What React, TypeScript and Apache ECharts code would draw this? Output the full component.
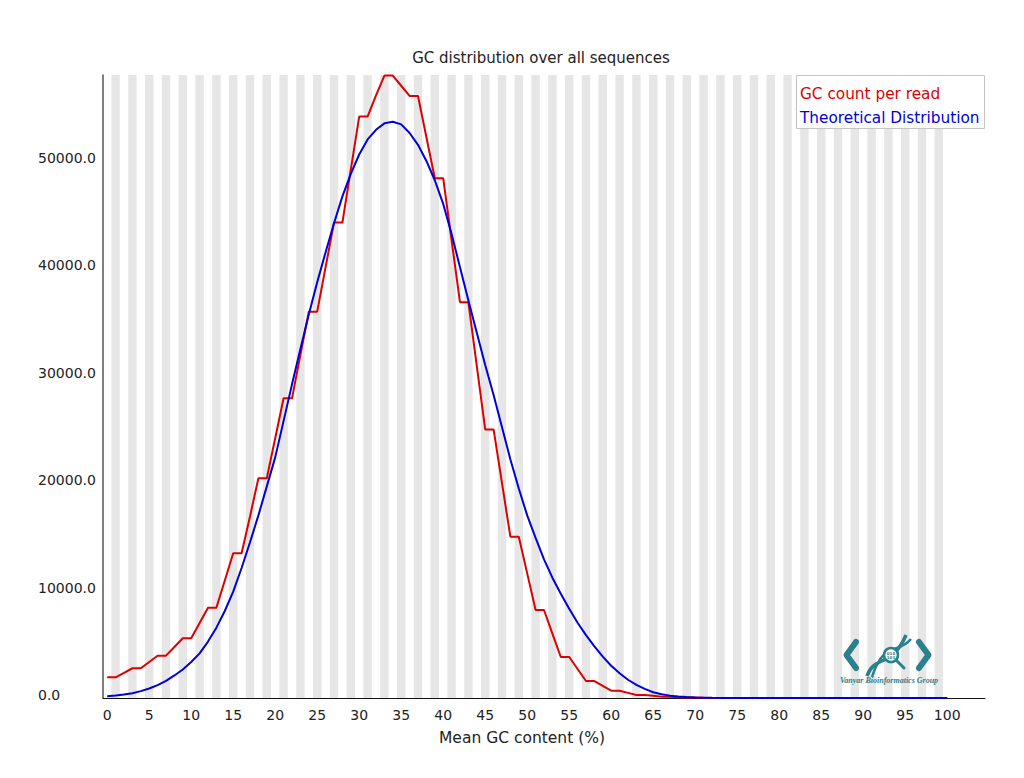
import React, { useEffect, useRef } from "react";
import * as echarts from "echarts";

// Mean GC content (%) positions 0..100
const GC_PERCENT: number[] = Array.from({ length: 101 }, (_, i) => i);

// Observed read counts per GC percentage
const GC_COUNT: number[] = [
  1930, 1930, 2350, 2770, 2770, 3350, 3940, 3940, 4750, 5560,
  5560, 6980, 8410, 8410, 10940, 13470, 13470, 16900, 20460, 20460,
  24180, 27900, 27900, 31940, 35970, 35970, 40110, 44260, 44260, 49190,
  54130, 54130, 56100, 57950, 57950, 57000, 56050, 56050, 52200, 48390,
  48390, 42600, 36840, 36840, 30900, 25000, 25000, 20000, 15020, 15020,
  11600, 8190, 8190, 6000, 3820, 3820, 2700, 1580, 1580, 1130,
  680, 680, 480, 280, 280, 200, 120, 110, 80, 50,
  40, 20, 10, 0, 0, 0, 0, 0, 0, 0,
  0, 0, 0, 0, 0, 0, 0, 0, 0, 0,
  0, 0, 0, 0, 0, 0, 0, 0, 0, 0,
  0,
];

// Theoretical (normal) distribution per GC percentage
const THEORETICAL: number[] = [
  160, 230, 320, 450, 640, 880, 1200, 1600, 2100, 2650,
  3350, 4150, 5250, 6550, 8100, 9900, 12100, 14500, 17000, 19700,
  22400, 25800, 29200, 32500, 35700, 38700, 41500, 44200, 46700, 48800,
  50600, 52000, 52900, 53500, 53650, 53400, 52600, 51500, 50000, 48200,
  46000, 43200, 40100, 37000, 34000, 31000, 28200, 25200, 22200, 19500,
  17000, 14900, 12900, 11200, 9700, 8300, 7000, 5850, 4800, 3850,
  3000, 2300, 1700, 1220, 850, 540, 350, 220, 140, 85,
  50, 30, 18, 10, 5, 3, 2, 1, 0, 0,
  0, 0, 0, 0, 0, 0, 0, 0, 0, 0,
  0, 0, 0, 0, 0, 0, 0, 0, 0, 0,
  0,
];

const X_TICKS: number[] = [0, 5, 10, 15, 20, 25, 30, 35, 40, 45, 50, 55, 60, 65, 70, 75, 80, 85, 90, 95, 100];
const Y_TICKS: number[] = [0, 10000, 20000, 30000, 40000, 50000];
const Y_MAX = 58000;

const SERIES_NAMES = ["GC count per read", "Theoretical Distribution"];
const TITLE = "GC distribution over all sequences";
const X_NAME = "Mean GC content (%)";

const RED = "#dc0000";
const BLUE = "#0000dc";
const STRIPE = "#e6e6e6";
const TEAL = "#2a808c";
const FONT = '"DejaVu Sans", "Noto Sans", sans-serif';

export default function App() {
  const ref = useRef<HTMLDivElement>(null);

  useEffect(() => {
    if (!ref.current) return;
    const chart = echarts.init(ref.current, null, { renderer: "svg" });

    // shaded band behind every odd GC percentage
    const stripes = GC_PERCENT.filter((p) => p % 2 === 1).map((p) => [
      { xAxis: p - 0.5 },
      { xAxis: p + 0.5 },
    ]);

    const centered = { align: "center", verticalAlign: "middle", textAlign: "center", textVerticalAlign: "middle" };
    const TOP = 100;

    const option: any = {
      animation: false,
      backgroundColor: "#ffffff",
      grid: { left: 103, right: 39, top: 75, bottom: 80, containLabel: false },
      xAxis: {
        type: "value",
        min: -0.5,
        max: 104.5,
        axisLine: { show: true, lineStyle: { color: "#111", width: 1 } },
        axisTick: { show: false },
        splitLine: { show: false },
        axisLabel: {
          customValues: X_TICKS,
          formatter: (v: number) => String(v),
          fontFamily: FONT,
          fontSize: 14,
          color: "#222",
          margin: 10,
        },
      },
      yAxis: {
        type: "value",
        min: 0,
        max: Y_MAX,
        axisLine: { show: true, onZero: false, lineStyle: { color: "#555", width: 1.5 } },
        axisTick: { show: false },
        splitLine: { show: false },
        axisLabel: {
          customValues: Y_TICKS,
          formatter: (v: number) => v.toFixed(1),
          fontFamily: FONT,
          fontSize: 14,
          color: "#222",
          margin: 65,
          align: "left",
          verticalAlign: "bottom",
          lineHeight: 6,
        },
      },
      series: [
        {
          name: "stripes",
          type: "line",
          data: [],
          silent: true,
          z: 0,
          markArea: {
            silent: true,
            itemStyle: { color: STRIPE },
            data: stripes,
          },
        },
        {
          name: SERIES_NAMES[0],
          type: "line",
          data: GC_PERCENT.map((p, i) => [p, GC_COUNT[i]]),
          showSymbol: false,
          clip: false,
          z: 3,
          lineStyle: { color: RED, width: 2 },
          itemStyle: { color: RED },
        },
        {
          name: SERIES_NAMES[1],
          type: "line",
          data: GC_PERCENT.map((p, i) => [p, THEORETICAL[i]]),
          showSymbol: false,
          clip: false,
          z: 4,
          lineStyle: { color: BLUE, width: 2 },
          itemStyle: { color: BLUE },
        },
      ],
      graphic: [
        {
          type: "text",
          x: 541,
          y: 58,
          z: TOP,
          style: { text: TITLE, font: `15px ${FONT}`, fill: "#222", ...centered },
        },
        {
          type: "text",
          x: 522,
          y: 738,
          z: TOP,
          style: { text: X_NAME, font: `15.5px ${FONT}`, fill: "#222", ...centered },
        },
        // legend box
        {
          type: "rect",
          z: TOP,
          shape: { x: 796.5, y: 75.5, width: 188, height: 53 },
          style: { fill: "#ffffff", stroke: "#c4c4c4", lineWidth: 1 },
        },
        {
          type: "text",
          x: 800,
          y: 94,
          z: TOP + 1,
          style: {
            text: SERIES_NAMES[0],
            font: `15.3px ${FONT}`,
            fill: RED,
            verticalAlign: "middle",
            textVerticalAlign: "middle",
          },
        },
        {
          type: "text",
          x: 800,
          y: 118,
          z: TOP + 1,
          style: {
            text: SERIES_NAMES[1],
            font: `15.3px ${FONT}`,
            fill: BLUE,
            verticalAlign: "middle",
            textVerticalAlign: "middle",
          },
        },
        // group logo
        {
          type: "polyline",
          z: TOP,
          shape: { points: [[856, 642], [846.5, 655], [856, 668]] },
          style: { stroke: TEAL, lineWidth: 6, lineCap: "round", lineJoin: "round", fill: null },
        },
        {
          type: "polyline",
          z: TOP,
          shape: { points: [[919, 642], [928.5, 655], [919, 668]] },
          style: { stroke: TEAL, lineWidth: 6, lineCap: "round", lineJoin: "round", fill: null },
        },
        {
          type: "bezierCurve",
          z: TOP,
          shape: { x1: 867, y1: 676, cpx1: 874, cpy1: 655, cpx2: 892, cpy2: 668, x2: 906, y2: 635 },
          style: { stroke: TEAL, lineWidth: 3.5, fill: null },
        },
        {
          type: "bezierCurve",
          z: TOP,
          shape: { x1: 872, y1: 677, cpx1: 884, cpy1: 640, cpx2: 898, cpy2: 655, x2: 911, y2: 639 },
          style: { stroke: TEAL, lineWidth: 2.5, fill: null },
        },
        {
          type: "line",
          z: TOP,
          shape: { x1: 896, y1: 660, x2: 904, y2: 668 },
          style: { stroke: TEAL, lineWidth: 3, lineCap: "round" },
        },
        {
          type: "circle",
          z: TOP + 1,
          shape: { cx: 891, cy: 655, r: 7 },
          style: { fill: "#ffffff", stroke: TEAL, lineWidth: 2.5 },
        },
        {
          type: "text",
          x: 891,
          y: 655,
          z: TOP + 2,
          style: { text: "010\n101", font: `bold 4px ${FONT}`, fill: TEAL, ...centered },
        },
        {
          type: "text",
          x: 889,
          y: 680,
          z: TOP,
          style: {
            text: "Vanyar Bioinformatics Group",
            font: `italic bold 8px "Liberation Serif", serif`,
            fill: TEAL,
            ...centered,
          },
        },
      ],
    };

    chart.setOption(option);
    return () => {
      chart.dispose();
    };
  }, []);

  return (
    <div
      ref={ref}
      style={{ position: "absolute", left: 0, top: 0, width: 1024, height: 778 }}
    />
  );
}
